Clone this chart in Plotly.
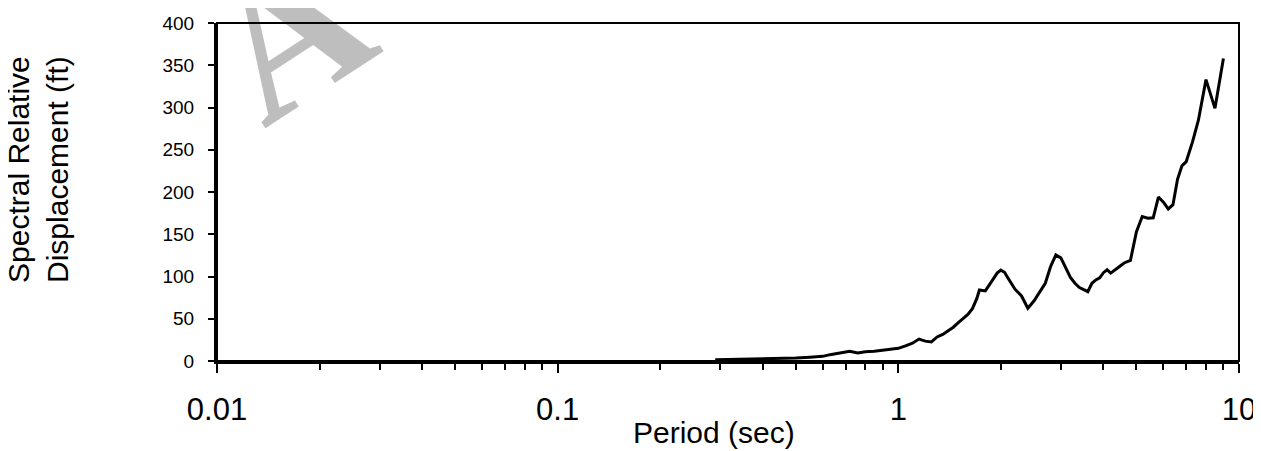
import plotly.graph_objects as go

# Period (sec)
period = [0.29, 0.32, 0.36, 0.40, 0.45, 0.50, 0.55, 0.60, 0.63, 0.67, 0.72, 0.76, 0.80, 0.85,
          0.90, 0.95, 1.00, 1.05, 1.10, 1.15, 1.20, 1.25, 1.30, 1.35, 1.40, 1.45, 1.50, 1.55,
          1.60, 1.65, 1.70, 1.73, 1.80, 1.85, 1.89, 1.95, 2.00, 2.05, 2.10, 2.20, 2.30, 2.40,
          2.50, 2.60, 2.70, 2.80, 2.90, 3.00, 3.10, 3.20, 3.30, 3.40, 3.50, 3.60, 3.70, 3.80,
          3.90, 4.00, 4.10, 4.20, 4.40, 4.60, 4.80, 5.00, 5.20, 5.40, 5.60, 5.80, 6.00, 6.20,
          6.40, 6.60, 6.80, 7.00, 7.30, 7.60, 8.00, 8.50, 9.00]
# Spectral relative displacement (ft)
displacement = [1.5, 1.8, 2.2, 2.5, 2.8, 3.5, 4.5, 5.5, 7.5, 9.5, 11.5, 9.5, 11.0, 11.5,
                12.5, 13.5, 15.0, 18.0, 21.0, 26.0, 23.5, 22.5, 28.5, 31.5, 35.5, 40.0, 45.5, 50.0,
                55.0, 62.0, 74.0, 84.0, 83.0, 90.0, 96.0, 104.0, 107.5, 105.0, 98.0, 85.0, 77.0, 62.5,
                71.0, 81.0, 92.0, 112.0, 125.5, 122.0, 110.0, 99.0, 92.0, 87.0, 84.5, 82.0, 92.0, 96.0,
                98.5, 104.5, 108.0, 104.0, 110.0, 116.0, 119.0, 153.0, 171.0, 169.0, 169.5, 194.0, 188.0, 180.0,
                185.0, 215.0, 231.0, 236.0, 259.0, 285.0, 333.0, 299.0, 358.0]

x_major = [0.01, 0.1, 1, 10]
x_major_text = ["0.01", "0.1", "1", "10"]
x_minor = [m * d for d in (0.01, 0.1, 1) for m in range(2, 10)]

FONT = "Arial, Liberation Sans, sans-serif"
PAGE_OFFSET = 8  # default body margin of the written html page

fig = go.Figure()
fig.add_trace(go.Scatter(x=period, y=displacement, mode="lines",
                         line=dict(color="black", width=3), showlegend=False))

fig.update_layout(
    width=1261 - PAGE_OFFSET, height=451 - PAGE_OFFSET,
    margin=dict(l=217 - PAGE_OFFSET, r=22, t=23 - PAGE_OFFSET, b=90, autoexpand=False),
    paper_bgcolor="white", plot_bgcolor="white",
    font=dict(family=FONT, color="black"),
    xaxis=dict(type="log", range=[-2, 1], tickvals=x_major, ticktext=x_major_text,
               ticks="outside", ticklen=9, tickwidth=2, tickcolor="black",
               showline=True, linewidth=3, linecolor="black",
               showgrid=False, zeroline=False, automargin=False,
               tickfont=dict(size=31, family=FONT, color="black"),
               ticklabelstandoff=10,
               minor=dict(tickvals=x_minor, ticks="outside", ticklen=6, tickwidth=2,
                          tickcolor="black", showgrid=False)),
    yaxis=dict(range=[0, 400], dtick=50, tick0=0,
               ticks="outside", ticklen=6, tickwidth=2, tickcolor="black",
               showline=True, linewidth=3, linecolor="black",
               showgrid=False, zeroline=False, automargin=False,
               tickfont=dict(size=19, family=FONT, color="black"),
               ticklabelstandoff=10),
    shapes=[dict(type="rect", xref="paper", yref="paper", x0=0, x1=1, y0=0, y1=1,
                 line=dict(color="black", width=2), layer="above")],
    annotations=[
        dict(text="Spectral Relative<br>Displacement (ft)", xref="paper", yref="paper",
             x=0, y=(361 - 170) / 338, xshift=-179, xanchor="center", yanchor="middle",
             textangle=-90, showarrow=False, font=dict(size=30, family=FONT, color="black")),
        dict(text="Period (sec)", xref="paper", yref="paper",
             x=0.486, y=(361 - 432) / 338, xanchor="center", yanchor="middle",
             showarrow=False, font=dict(size=30, family=FONT, color="black")),
        dict(text="<b>A</b>", xref="paper", yref="paper", x=(287 - 217) / 1022, y=(361 - 33) / 338,
             xanchor="center", yanchor="middle", textangle=-33, showarrow=False,
             opacity=0.25, font=dict(size=200, family="Liberation Serif, Times New Roman, serif",
                                     color="black")),
    ],
)

fig.write_html("out.html")
